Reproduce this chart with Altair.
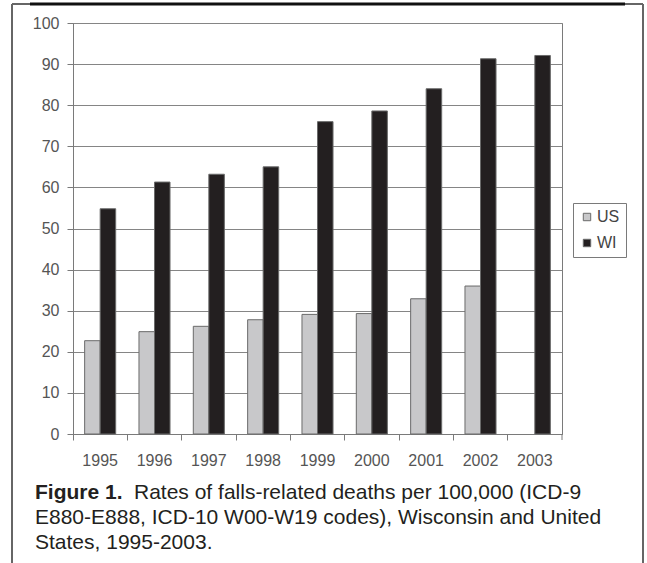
import altair as alt
import pandas as pd

years = ["1995", "1996", "1997", "1998", "1999", "2000", "2001", "2002", "2003"]
us = [22.7, 24.9, 26.2, 27.8, 29.1, 29.3, 32.9, 36.0, None]
wi = [54.8, 61.3, 63.2, 65.0, 76.0, 78.6, 84.0, 91.3, 92.1]
series = ["US", "WI"]
colors = ["#c8c8ca", "#231f20"]
y_ticks = [0, 10, 20, 30, 40, 50, 60, 70, 80, 90, 100]
caption_bold = "Figure 1."
caption_lines = [
    "Rates of falls-related deaths per 100,000 (ICD-9",
    "E880-E888, ICD-10 W00-W19 codes), Wisconsin and United",
    "States, 1995-2003.",
]

rows = []
for yr, u, w in zip(years, us, wi):
    if u is not None:
        rows.append({"year": yr, "series": "US", "rate": u})
    rows.append({"year": yr, "series": "WI", "rate": w})
df = pd.DataFrame(rows)

W, H = 489, 411
FONT = "Liberation Sans"
one = pd.DataFrame({"k": [0]})

bars = alt.Chart(df).mark_bar(stroke="#6a6a6a", strokeWidth=1).encode(
    x=alt.X("year:N", sort=years,
            scale=alt.Scale(paddingInner=0, paddingOuter=0),
            axis=alt.Axis(title=None, labelAngle=0, bandPosition=0,
                          tickSize=6, tickColor="#7a7a7a",
                          domainColor="#7a7a7a", labelColor="#555555",
                          labelFontSize=16, labelFont=FONT, labelPadding=12,
                          grid=False)),
    xOffset=alt.XOffset("series:N", sort=series,
                        scale=alt.Scale(paddingInner=0, paddingOuter=0.75)),
    y=alt.Y("rate:Q", scale=alt.Scale(domain=[0, 100]),
            axis=alt.Axis(title=None, values=y_ticks, grid=True,
                          gridColor="#858585", tickSize=6, tickColor="#7a7a7a",
                          domainColor="#7a7a7a", labelColor="#555555",
                          labelFontSize=16, labelFont=FONT, labelPadding=8)),
    color=alt.Color("series:N", sort=series,
                    scale=alt.Scale(domain=series, range=colors),
                    legend=alt.Legend(title=None, orient="none",
                                      legendX=500, legendY=180,
                                      symbolType="square", symbolSize=55,
                                      symbolStrokeColor="#6a6a6a",
                                      symbolStrokeWidth=1,
                                      labelFontSize=16, labelFont=FONT,
                                      labelColor="#444444",
                                      strokeColor="#7a7a7a", padding=6,
                                      rowPadding=10, labelOffset=2)),
)

last_tick = alt.Chart(one).mark_rule(color="#7a7a7a").encode(
    x=alt.value(W), y=alt.value(H), y2=alt.value(H + 6))

frame_left = alt.Chart(one).mark_rule(color="#333333", strokeWidth=1.5).encode(
    x=alt.value(-61), y=alt.value(-19), y2=alt.value(545))
frame_right = alt.Chart(one).mark_rule(color="#333333", strokeWidth=1.5).encode(
    x=alt.value(570), y=alt.value(-19), y2=alt.value(545))
frame_top_gray = alt.Chart(one).mark_rule(color="#666666", strokeWidth=2).encode(
    x=alt.value(-61), x2=alt.value(570), y=alt.value(-19))
frame_top = alt.Chart(one).mark_rule(color="#111111", strokeWidth=3).encode(
    x=alt.value(-43), x2=alt.value(552), y=alt.value(-19))

CX = -38
FS = 21
cap_bold = alt.Chart(one).mark_text(
    align="left", baseline="middle", font=FONT, fontSize=FS,
    fontWeight="bold", color="#231f20").encode(
    x=alt.value(CX), y=alt.value(470), text=alt.value(caption_bold))
cap1 = alt.Chart(one).mark_text(
    align="left", baseline="middle", font=FONT, fontSize=FS,
    color="#231f20").encode(
    x=alt.value(CX + 99), y=alt.value(470), text=alt.value(caption_lines[0]))
cap2 = alt.Chart(one).mark_text(
    align="left", baseline="middle", font=FONT, fontSize=FS,
    color="#231f20").encode(
    x=alt.value(CX), y=alt.value(495), text=alt.value(caption_lines[1]))
cap3 = alt.Chart(one).mark_text(
    align="left", baseline="middle", font=FONT, fontSize=FS,
    color="#231f20").encode(
    x=alt.value(CX), y=alt.value(520), text=alt.value(caption_lines[2]))

chart = alt.layer(
    bars, last_tick, frame_left, frame_right, frame_top_gray, frame_top,
    cap_bold, cap1, cap2, cap3
).properties(
    width=W, height=H,
    autosize=alt.AutoSizeParams(type="none"),
    padding={"left": 73, "top": 23, "right": 85, "bottom": 129},
    background="white",
).configure_view(stroke="#7a7a7a", strokeWidth=1)

chart.save("out.html", embed_options={"renderer": "svg", "actions": False})
